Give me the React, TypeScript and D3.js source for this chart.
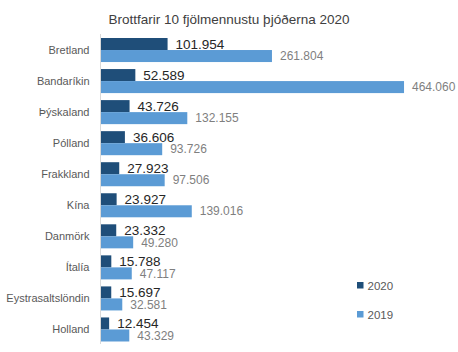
import React, { useEffect, useRef } from 'react';
import * as d3 from 'd3';

const countries = ['Bretland', 'Bandaríkin', 'Þýskaland', 'Pólland', 'Frakkland', 'Kína', 'Danmörk', 'Ítalía', 'Eystrasaltslöndin', 'Holland'];
const values2020 = [101954, 52589, 43726, 36606, 27923, 23927, 23332, 15788, 15697, 12454];
const values2019 = [261804, 464060, 132155, 93726, 97506, 139016, 49280, 47117, 32581, 43329];
const seriesNames = ['2020', '2019'];
const seriesColors = ['#1F4E79', '#5B9BD5'];
const labelColors = ['#262626', '#7F7F7F'];
const title = 'Brottfarir 10 fjölmennustu þjóðerna  2020';

const W = 458;
const H = 352;
const FONT = '"Liberation Sans", Arial, sans-serif';

const App = () => {
    const ref = useRef<SVGSVGElement>(null);

    useEffect(() => {
        if (!ref.current) return;
        const svg = d3.select(ref.current);
        svg.selectAll('*').remove();

        const locale = d3.formatLocale({ decimal: ',', thousands: '.', grouping: [3], currency: ['', ''] });
        const fmt = locale.format(',d');

        const left = 101;
        const x = d3.scaleLinear().domain([0, 500000]).range([left, left + 326.5]);
        const y = d3.scaleBand<string>()
            .domain(countries)
            .range([34.5, 345])
            .paddingInner(0.226)
            .paddingOuter(0.113);
        const sub = d3.scaleBand<string>().domain(seriesNames).range([0, y.bandwidth()]);

        svg.append('text')
            .attr('x', 229)
            .attr('y', 24)
            .attr('text-anchor', 'middle')
            .style('font-family', FONT)
            .style('font-size', '13.5px')
            .style('fill', '#404040')
            .text(title);

        const series = [values2020, values2019];
        series.forEach((vals, s) => {
            const g = svg.append('g');
            g.selectAll('rect')
                .data(countries)
                .enter().append('rect')
                .attr('x', left)
                .attr('y', c => (y(c) as number) + (sub(seriesNames[s]) as number))
                .attr('width', (c, i) => x(vals[i]) - left)
                .attr('height', sub.bandwidth())
                .style('fill', seriesColors[s]);
            g.selectAll('text')
                .data(countries)
                .enter().append('text')
                .attr('x', (c, i) => x(vals[i]) + 8)
                .attr('y', c => (y(c) as number) + (sub(seriesNames[s]) as number) + sub.bandwidth() / 2)
                .attr('dy', '0.35em')
                .style('font-family', FONT)
                .style('font-size', s === 0 ? '13.5px' : '12px')
                .style('fill', labelColors[s])
                .text((c, i) => fmt(vals[i]));
        });

        // category axis
        const axis = svg.append('g')
            .attr('transform', `translate(${left - 0.5},0)`)
            .call(d3.axisLeft(y).tickSize(0).tickPadding(11));
        axis.select('.domain').attr('stroke', '#D9D9D9').attr('d', 'M0,34V344');
        axis.selectAll('text')
            .style('font-family', FONT)
            .style('font-size', '11px')
            .style('fill', '#595959');

        // legend
        const legend = svg.append('g')
            .selectAll('g')
            .data(seriesNames)
            .enter().append('g')
            .attr('transform', (d, i) => `translate(357, ${282 + i * 29})`);
        legend.append('rect')
            .attr('width', 6.5)
            .attr('height', 6.5)
            .style('fill', (d, i) => seriesColors[i]);
        legend.append('text')
            .attr('x', 10.5)
            .attr('y', 3.5)
            .attr('dy', '0.35em')
            .style('font-family', FONT)
            .style('font-size', '11.5px')
            .style('fill', '#595959')
            .text(d => d);
    }, []);

    return (
        <svg ref={ref} width={W} height={H} style={{ position: 'absolute', left: 0, top: 0, background: '#fff' }} />
    );
};

export default App;
